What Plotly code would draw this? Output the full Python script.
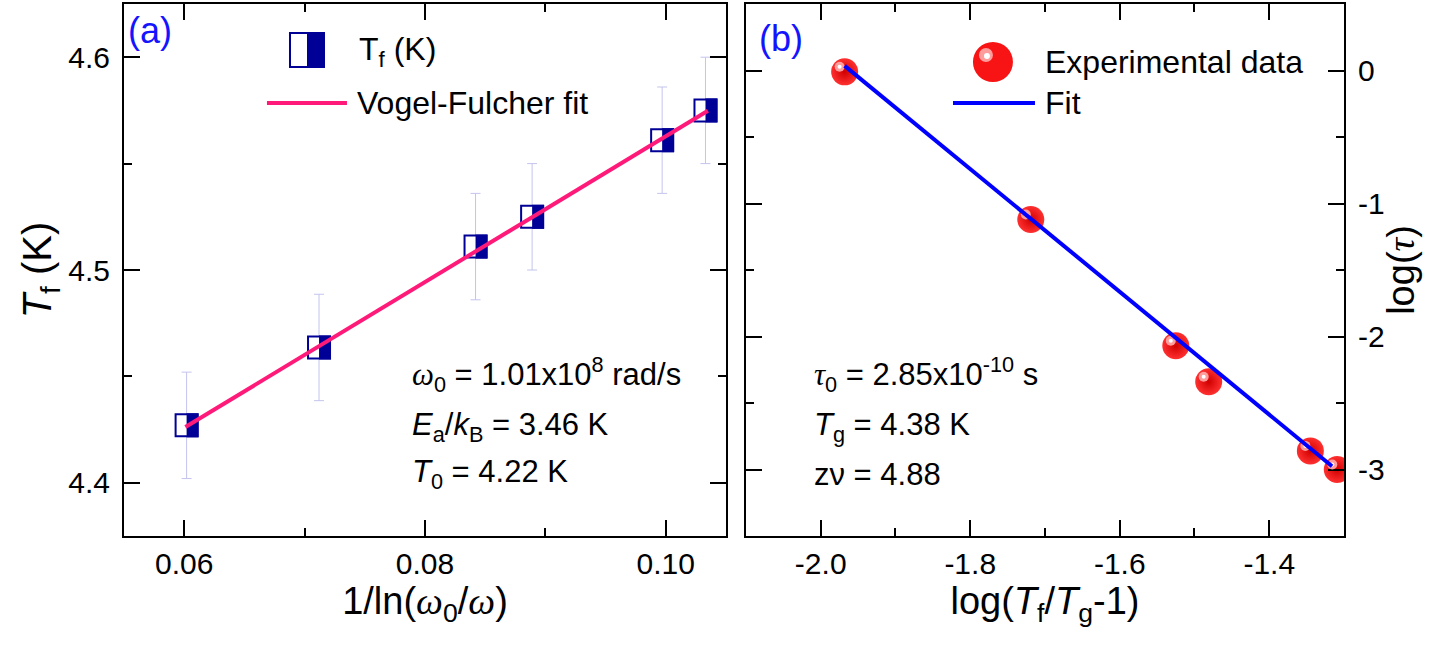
import plotly.graph_objects as go

# ---------------- data: panel (a) ----------------
inv_ln = [0.0602, 0.0712, 0.0842, 0.0889, 0.0997, 0.1033]
tf = [4.427, 4.4636, 4.511, 4.525, 4.561, 4.575]
tf_err = [0.025, 0.025, 0.025, 0.025, 0.025, 0.025]
vf_x = [0.0601, 0.1035]
vf_y = [4.4262, 4.5748]
a_xticks = [0.06, 0.08, 0.10]
a_xminor = [0.07, 0.09]
a_yticks = [4.4, 4.5, 4.6]
a_yminor = [4.45, 4.55]

# ---------------- data: panel (b) ----------------
log_t = [-1.968, -1.719, -1.525, -1.481, -1.345, -1.309]
log_tau = [-0.01, -1.12, -2.07, -2.34, -2.86, -3.00]
fit_x = [-1.968, -1.316]
fit_y = [0.035, -2.975]
b_xticks = [-2.0, -1.8, -1.6, -1.4]
b_xminor = [-1.9, -1.7, -1.5]
b_yticks = [0, -1, -2, -3]
b_yminor = [-0.5, -1.5, -2.5]

FONT = "Arial, 'Liberation Sans', sans-serif"
GREEK = "<span style=\"font-family:'Liberation Serif', serif\"><i>%s</i></span>"
NAVY = "#000096"
PINK = "#ff1a7a"
BLUE = "#0000ff"
LABEL_BLUE = "#1414ff"

fig = go.Figure()

# error bars (drawn first, below markers)
fig.add_trace(go.Scatter(
    x=inv_ln, y=tf, mode="markers", xaxis="x", yaxis="y",
    marker=dict(size=1, opacity=0),
    error_y=dict(type="data", array=tf_err, color="#c4c4ee", thickness=1, width=5),
    hoverinfo="skip"))
# half-open squares: white face, navy border
fig.add_trace(go.Scatter(
    x=inv_ln, y=tf, mode="markers", xaxis="x", yaxis="y",
    marker=dict(symbol="square", size=22, color="white",
                line=dict(color=NAVY, width=2))))

# spheres
fig.add_trace(go.Scatter(
    x=log_t, y=log_tau, mode="markers", xaxis="x2", yaxis="y2",
    marker=dict(symbol="circle", size=27, color="#ff3030",
                gradient=dict(type="radial", color="#d00000"),
                line=dict(width=0))))

shapes = []
# right (filled) halves of the data squares
for xv, yv in zip(inv_ln, tf):
    shapes.append(dict(type="rect", xref="x", yref="y", layer="above",
                       xsizemode="pixel", ysizemode="pixel",
                       xanchor=xv, yanchor=yv, x0=0, x1=12, y0=-12, y1=12,
                       fillcolor=NAVY, line=dict(width=0)))
# sphere highlights
for xv, yv in zip(log_t, log_tau):
    shapes.append(dict(type="circle", xref="x2", yref="y2", layer="above",
                       xsizemode="pixel", ysizemode="pixel",
                       xanchor=xv, yanchor=yv, x0=-10, x1=0, y0=0, y1=10,
                       fillcolor="#ff9c9c", line=dict(width=0)))
    shapes.append(dict(type="circle", xref="x2", yref="y2", layer="above",
                       xsizemode="pixel", ysizemode="pixel",
                       xanchor=xv, yanchor=yv, x0=-7, x1=-3, y0=3, y1=7,
                       fillcolor="white", line=dict(width=0)))
# fit lines drawn on top of the markers
shapes.append(dict(type="line", xref="x", yref="y", layer="above",
                   x0=vf_x[0], y0=vf_y[0], x1=vf_x[1], y1=vf_y[1],
                   line=dict(color=PINK, width=4)))
shapes.append(dict(type="line", xref="x2", yref="y2", layer="above",
                   x0=fit_x[0], y0=fit_y[0], x1=fit_x[1], y1=fit_y[1],
                   line=dict(color=BLUE, width=4)))

# ---- legend (a) ----
shapes.append(dict(type="rect", xref="x domain", yref="y domain", layer="above",
                   xsizemode="pixel", ysizemode="pixel", xanchor=0.304, yanchor=0.9135,
                   x0=-17, x1=17, y0=-17, y1=17, fillcolor="white",
                   line=dict(color=NAVY, width=2)))
shapes.append(dict(type="rect", xref="x domain", yref="y domain", layer="above",
                   xsizemode="pixel", ysizemode="pixel", xanchor=0.304, yanchor=0.9135,
                   x0=0, x1=17, y0=-17, y1=17, fillcolor=NAVY, line=dict(width=0)))
shapes.append(dict(type="line", xref="x domain", yref="y domain", layer="above",
                   x0=0.2375, x1=0.3704, y0=0.8139, y1=0.8139,
                   line=dict(color=PINK, width=4)))
# ---- legend (b) ----
shapes.append(dict(type="circle", xref="x2 domain", yref="y2 domain", layer="above",
                   xsizemode="pixel", ysizemode="pixel", xanchor=0.413, yanchor=0.891,
                   x0=-20, x1=20, y0=-20, y1=20, fillcolor="#f81414", line=dict(width=0)))
shapes.append(dict(type="circle", xref="x2 domain", yref="y2 domain", layer="above",
                   xsizemode="pixel", ysizemode="pixel", xanchor=0.413, yanchor=0.891,
                   x0=-14, x1=0, y0=0, y1=14, fillcolor="#ff9c9c", line=dict(width=0)))
shapes.append(dict(type="circle", xref="x2 domain", yref="y2 domain", layer="above",
                   xsizemode="pixel", ysizemode="pixel", xanchor=0.413, yanchor=0.891,
                   x0=-9, x1=-3, y0=3, y1=9, fillcolor="white", line=dict(width=0)))
shapes.append(dict(type="line", xref="x2 domain", yref="y2 domain", layer="above",
                   x0=0.3462, x1=0.4833, y0=0.8139, y1=0.8139,
                   line=dict(color=BLUE, width=4)))

def ann(text, x, y, xref, yref, size=32, color="black"):
    return dict(text=text, x=x, y=y, xref=xref, yref=yref, showarrow=False,
                xanchor="left", yanchor="middle", font=dict(family=FONT, size=size, color=color))

annotations = [
    ann("(a)", 0.004, 0.95, "x domain", "y domain", 36, LABEL_BLUE),
    ann("(b)", 0.018, 0.936, "x2 domain", "y2 domain", 36, LABEL_BLUE),
    ann("T<sub>f</sub> (K)", 0.387, 0.9098, "x domain", "y domain"),
    ann("Vogel-Fulcher fit", 0.3837, 0.8139, "x domain", "y domain"),
    ann("Experimental data", 0.4967, 0.891, "x2 domain", "y2 domain"),
    ann("Fit", 0.4967, 0.8139, "x2 domain", "y2 domain"),
    ann(GREEK % "ω" + "<sub>0</sub> = 1.01x10<sup>8</sup> rad/s", 0.475, 0.3045, "x domain", "y domain", 31),
    ann("<i>E</i><sub>a</sub>/<i>k</i><sub>B</sub> = 3.46 K", 0.475, 0.2049, "x domain", "y domain", 31),
    ann("<i>T</i><sub>0</sub> = 4.22 K", 0.475, 0.1165, "x domain", "y domain", 31),
    ann(GREEK % "τ" + "<sub>0</sub> = 2.85x10<sup>-10</sup> s", 0.110, 0.3045, "x2 domain", "y2 domain", 31),
    ann("<i>T</i><sub>g</sub> = 4.38 K", 0.110, 0.2049, "x2 domain", "y2 domain", 31),
    ann("zν = 4.88", 0.110, 0.1165, "x2 domain", "y2 domain", 31),
]

def axis(**kw):
    d = dict(showline=True, linewidth=2, linecolor="black", mirror="ticks",
             ticks="inside", ticklen=16, tickwidth=2, tickcolor="black",
             showgrid=False, zeroline=False, tickmode="array",
             tickfont=dict(family=FONT, size=30, color="black"))
    d.update(kw)
    return d

def minor(vals):
    return dict(tickmode="array", tickvals=vals, ticks="inside", ticklen=8,
                tickwidth=2, tickcolor="black", showgrid=False)

fig.update_layout(
    width=1432, height=663, showlegend=False,
    paper_bgcolor="white", plot_bgcolor="white",
    margin=dict(l=124, r=88, t=4, b=127, autoexpand=False),
    font=dict(family=FONT, color="black"),
    xaxis=axis(domain=[0, 0.4934], range=[0.055, 0.105], anchor="y",
               tickvals=a_xticks, ticktext=["%.2f" % v for v in a_xticks],
               minor=minor(a_xminor), ticklabelstandoff=0,
               title=dict(text="1/ln(" + GREEK % "ω" + "<sub>0</sub>/" + GREEK % "ω" + ")",
                          font=dict(family=FONT, size=38), standoff=8)),
    yaxis=axis(domain=[0, 1], range=[4.375, 4.625], anchor="x",
               tickvals=a_yticks, ticktext=["%.1f" % v for v in a_yticks],
               minor=minor(a_yminor), ticklabelstandoff=6,
               title=dict(text="<i>T</i><sub>f</sub> (K)",
                          font=dict(family=FONT, size=40), standoff=4)),
    xaxis2=axis(domain=[0.5098, 1], range=[-2.1, -1.3], anchor="y2",
                tickvals=b_xticks, ticktext=["%.1f" % v for v in b_xticks],
                minor=minor(b_xminor), ticklabelstandoff=0,
                title=dict(text="log(<i>T</i><sub>f</sub>/<i>T</i><sub>g</sub>-1)",
                           font=dict(family=FONT, size=38), standoff=8)),
    yaxis2=axis(domain=[0, 1], range=[-3.5, 0.5], anchor="x2", side="right",
                tickvals=b_yticks, ticktext=["%d" % v for v in b_yticks],
                minor=minor(b_yminor), ticklabelstandoff=6,
                title=dict(text="log(" + GREEK % "τ" + ")",
                           font=dict(family=FONT, size=38), standoff=4)),
    shapes=shapes, annotations=annotations,
)

fig.write_html("out.html")
